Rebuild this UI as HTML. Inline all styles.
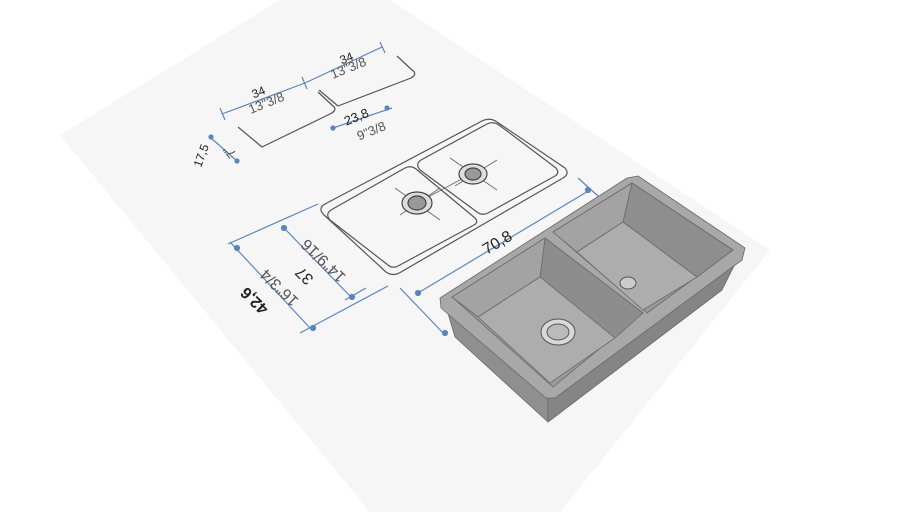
<!DOCTYPE html>
<html><head><meta charset="utf-8"><style>
html,body{margin:0;padding:0;background:#fff;}
svg{display:block}
text{font-family:"Liberation Sans",sans-serif;text-anchor:middle;}
</style></head><body>
<svg width="910" height="512" viewBox="0 0 910 512" xmlns="http://www.w3.org/2000/svg">
<rect width="910" height="512" fill="#fff"/>
<polygon points="60,135 280,0 390,0 770,250 560,512 370,512" fill="#f6f6f6"/>
<g fill="none" stroke="#555" stroke-width="1.2" stroke-linejoin="round">
 <path d="M238,127 L262,147 L330,114 Q338,110 333,106 L318,92"/>
 <path d="M319,90 L338,106 L411,78 Q418,74 412,70 L397,56"/>
 <path d="M325,204 L482,121 Q490,117 497,122 L565,168 Q570,174 563,178 L401,272 Q393,277 386,272 L323,214 Q318,208 325,204Z"/>
 <path d="M331,210 L405,168 Q411,165 416,169 L475,218 Q479,222 474,225 L398,266 Q393,269 388,265 L330,220 Q325,214 331,210Z"/>
 <path d="M421,160 L487,124 Q493,121 499,125 L556,168 Q560,173 555,176 L488,213 Q482,216 477,212 L420,170 Q415,164 421,160Z"/>
</g>
<g stroke="#666" stroke-width="0.8">
 <line x1="395" y1="188" x2="440" y2="220"/><line x1="400" y1="215" x2="440" y2="188"/>
 <line x1="450" y1="158" x2="497" y2="190"/><line x1="455" y1="186" x2="497" y2="160"/>
 <line x1="417" y1="203" x2="473" y2="173"/>
</g>
<g stroke="#444" fill="#ddd" stroke-width="1.2">
 <ellipse cx="417" cy="203" rx="15" ry="11"/><ellipse cx="417" cy="203" rx="9" ry="7" fill="#999"/>
 <ellipse cx="473" cy="174" rx="14" ry="10"/><ellipse cx="473" cy="174" rx="8" ry="6" fill="#999"/>
</g>
<g stroke="#5b86bd" stroke-width="1.2" fill="#5b86bd">
 <line x1="222" y1="114" x2="305" y2="83"/><line x1="305" y1="83" x2="382" y2="47"/>
 <line x1="220" y1="108" x2="225" y2="120"/><line x1="302" y1="77" x2="307" y2="89"/><line x1="380" y1="42" x2="385" y2="53"/>
 <line x1="333" y1="128" x2="392" y2="108"/>
 <line x1="210" y1="137" x2="238" y2="162"/>
 <line x1="230" y1="242" x2="310" y2="328"/><line x1="228" y1="244" x2="318" y2="204"/><line x1="300" y1="333" x2="388" y2="286"/>
 <line x1="284" y1="228" x2="350" y2="296"/><line x1="345" y1="300" x2="366" y2="288"/>
 <line x1="418" y1="293" x2="590" y2="190"/><line x1="400" y1="288" x2="445" y2="335"/><line x1="578" y1="178" x2="598" y2="196"/>
 <circle cx="237" cy="248" r="2.5"/><circle cx="313" cy="328" r="2.5"/><circle cx="284" cy="228" r="2.5"/><circle cx="352" cy="297" r="2.5"/>
 <circle cx="418" cy="293" r="2.5"/><circle cx="588" cy="190" r="2.5"/><circle cx="445" cy="333" r="2.5"/>
 <circle cx="211" cy="137" r="2"/><circle cx="237" cy="161" r="2"/><circle cx="333" cy="128" r="2"/><circle cx="387" cy="108" r="2"/>
</g>
<g fill="#222" font-size="12">
 <text x="260" y="96" transform="rotate(-22 260 96)">34</text>
 <text x="348" y="62" transform="rotate(-22 348 62)">34</text>
 <text x="358" y="121" transform="rotate(-22 358 121)" font-size="13">23,8</text>
</g>
<g fill="#555" font-size="13">
 <text x="268" y="107" transform="rotate(-22 268 107)">13"3/8</text>
 <text x="350" y="72" transform="rotate(-22 350 72)">13"3/8</text>
 <text x="373" y="135" transform="rotate(-22 373 135)">9"3/8</text>
 <text x="233" y="149" transform="rotate(230 233 149)">7"</text>
</g>
<text x="205" y="157" font-size="12" fill="#222" transform="rotate(-70 205 157)">17,5</text>
<g font-size="16" fill="#222">
 <text x="258" y="297" transform="rotate(224 258 297)" font-weight="bold">42,6</text>
 <text x="308" y="272" transform="rotate(224 308 272)">37</text>
 <text x="500" y="247" transform="rotate(-31 500 247)">70,8</text>
</g>
<g font-size="16" fill="#555">
 <text x="283" y="284" transform="rotate(224 283 284)">16"3/4</text>
 <text x="327" y="257" transform="rotate(224 327 257)">14"9/16</text>
 <text x="510" y="264" transform="rotate(149 510 264)">27"7/8</text>
</g>
<g stroke="#6a6a6a" stroke-width="0.8" stroke-linejoin="round">
 <polygon points="447,310 548,395 548,422 455,337" fill="#8f8f8f"/>
 <polygon points="548,395 738,258 722,290 548,422" fill="#858585"/>
 <polygon points="440,298 627,178 638,176 745,248 742,260 555,398 546,398 441,308" fill="#a8a8a8"/>
 <polygon points="452,297 545,238 643,313 553,387" fill="#9a9a9a"/>
 <polygon points="545,238 643,313 615,338 540,277" fill="#8d8d8d"/>
 <polygon points="452,297 545,238 540,277 478,317" fill="#a3a3a3"/>
 <polygon points="478,317 540,277 615,338 550,383" fill="#adadad"/>
 <polygon points="553,232 632,183 733,250 647,313" fill="#9a9a9a"/>
 <polygon points="632,183 733,250 697,277 623,222" fill="#8e8e8e"/>
 <polygon points="553,232 632,183 623,222 577,252" fill="#a3a3a3"/>
 <polygon points="577,252 623,222 697,277 643,310" fill="#adadad"/>
</g>
<g stroke="#555" stroke-width="1">
 <ellipse cx="558" cy="332" rx="17" ry="13" fill="#d8d8d8"/>
 <ellipse cx="558" cy="332" rx="11" ry="8" fill="#bbb"/>
 <ellipse cx="628" cy="283" rx="8" ry="6" fill="#ccc"/>
</g>
</svg>
</body></html>
